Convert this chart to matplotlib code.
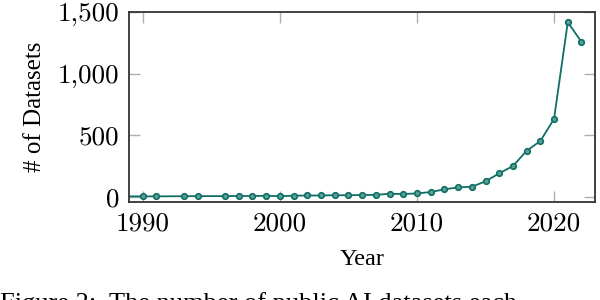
import matplotlib
matplotlib.use("Agg")
import matplotlib.pyplot as plt
from matplotlib.ticker import FuncFormatter

years = [1988, 1990, 1991, 1993, 1994, 1996, 1997, 1998, 1999, 2000, 2001, 2002,
         2003, 2004, 2005, 2006, 2007, 2008, 2009, 2010, 2011, 2012, 2013,
         2014, 2015, 2016, 2017, 2018, 2019, 2020, 2021, 2022]
datasets = [3, 3, 3, 4, 5, 5, 6, 6, 7, 5, 8, 10,
            10, 12, 12, 14, 15, 24, 22, 27, 38, 60, 76,
            81, 125, 190, 249, 373, 452, 633, 1417, 1257]
xticks = [1990, 2000, 2010, 2020]
yticks = [0, 500, 1000, 1500]

teal = "#0f6f65"
fig = plt.figure(figsize=(6, 3), dpi=100)
ax = fig.add_axes([0.215, 0.327, 0.777, 0.633])
ax.plot(years, datasets, color=teal, lw=1.3, marker="o", markersize=4,
        markerfacecolor="#5c9f96", markeredgecolor=teal, markeredgewidth=1.2,
        clip_on=True)
ax.set_xlim(1989, 2023)
ax.set_ylim(-42, 1500)
ax.set_xticks(xticks)
ax.set_yticks(yticks)
ax.yaxis.set_major_formatter(FuncFormatter(lambda v, p: f"{int(v):,}"))
ax.tick_params(direction="in", length=8, width=1, color="#a9b3b1",
               top=True, right=True, labelsize=19.5, pad=7,
               labelfontfamily="cmr10")
for s in ax.spines.values():
    s.set_color("#333333")
    s.set_linewidth(1.3)
ax.set_xlabel("Year", fontfamily="Liberation Serif", fontsize=17.5, labelpad=10)
ax.set_ylabel("# of Datasets", fontfamily="Liberation Serif", fontsize=18, labelpad=8)
fig.text(0.0, -0.05, "Figure 2:  The number of public AI datasets each",
         fontfamily="Liberation Serif", fontsize=19, va="bottom", ha="left")
fig.savefig("out.png", dpi=100)
